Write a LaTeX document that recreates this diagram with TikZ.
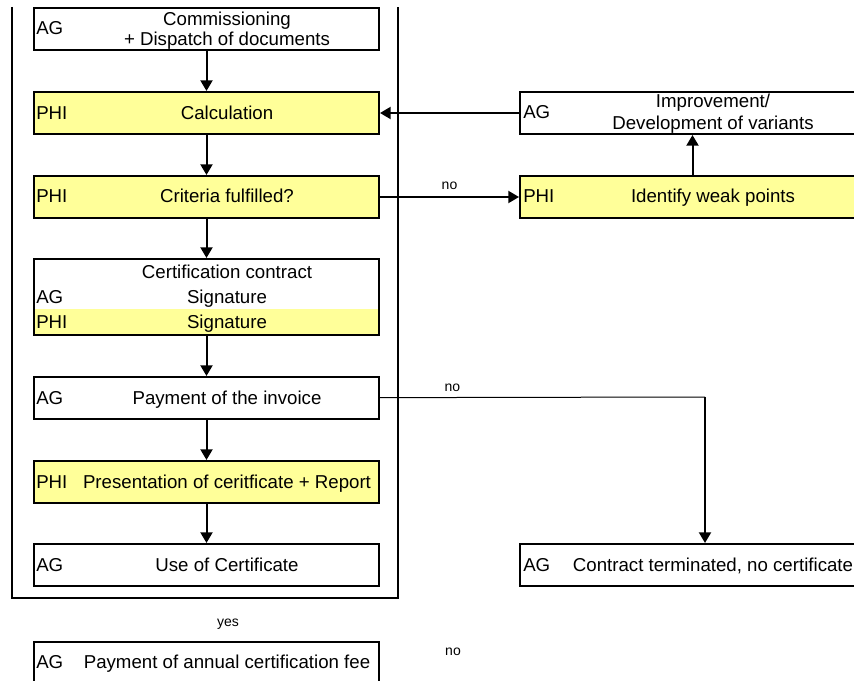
\documentclass[tikz,border=0pt]{standalone}
\usepackage{fontspec}
\setmainfont{Liberation Sans}
\usetikzlibrary{arrows.meta}
\definecolor{phiyellow}{RGB}{255,255,153}

\begin{document}
\begin{tikzpicture}[x=0.75pt,y=0.75pt,yscale=-1,xscale=1,
  box/.style={draw, line width=1.5pt, anchor=north west, inner sep=0pt, minimum width=258.75pt, minimum height=31.5pt},
  phibox/.style={box, fill=phiyellow},
  role/.style={anchor=base west, inner sep=0pt, font=\fontsize{14}{16}\selectfont},
  txt/.style={anchor=base, inner sep=0pt, font=\fontsize{14}{16}\selectfont},
  lbl/.style={inner sep=0pt, font=\fontsize{10.5}{12}\selectfont},
  flow/.style={line width=1.5pt, -{Triangle[length=8pt,width=9pt]}}]
\clip (0,0) rectangle (854,681);

%Frame
\draw [line width=1.5pt]  (12,7) -- (12,598) -- (398,598) -- (398,7) ;

%Shape: Rectangle
\node [box] (comm) at (33,7) {};
\node [role] (commrole) at (36,35) {AG};
\node [txt] (commtxt) at (227,26) {Commissioning};
\node [txt] (commtxtb) at (227,46) {+ Dispatch of documents};
%Shape: Rectangle
\node [phibox] (calc) at (33,91) {};
\node [role] (calcrole) at (36,120) {PHI};
\node [txt] (calctxt) at (227,120) {Calculation};
%Shape: Rectangle
\node [phibox] (crit) at (33,175) {};
\node [role] (critrole) at (36,203) {PHI};
\node [txt] (crittxt) at (227,203) {Criteria fulfilled?};
%Shape: Rectangle
\fill [phiyellow] (33,309) rectangle (378,334);
\node [box, minimum height=57pt] (contract) at (33,258) {};
\node [txt] (contracttxt) at (227,278) {Certification contract};
\node [role] (contractag) at (36,304) {AG};
\node [txt] (contractsiga) at (227,304) {Signature};
\node [role] (contractphi) at (36,329) {PHI};
\node [txt] (contractsigb) at (227,329) {Signature};
%Shape: Rectangle
\node [box] (pay) at (33,376) {};
\node [role] (payrole) at (36,404) {AG};
\node [txt] (paytxt) at (227,404) {Payment of the invoice};
%Shape: Rectangle
\node [phibox] (pres) at (33,460) {};
\node [role] (presrole) at (36,488) {PHI};
\node [txt] (prestxt) at (227,488) {Presentation of ceritficate + Report};
%Shape: Rectangle
\node [box] (use) at (33,543) {};
\node [role] (userole) at (36,571) {AG};
\node [txt] (usetxt) at (227,571) {Use of Certificate};
%Shape: Rectangle
\node [box] (fee) at (33,641) {};
\node [role] (feerole) at (36,668) {AG};
\node [txt] (feetxt) at (227,668) {Payment of annual certification fee};

%Shape: Rectangle
\node [box] (impr) at (519,91) {};
\node [role] (imprrole) at (523,119) {AG};
\node [txt] (imprtxt) at (713,108) {Improvement/};
\node [txt] (imprtxtb) at (713,130) {Development of variants};
%Shape: Rectangle
\node [phibox] (weak) at (519,175) {};
\node [role] (weakrole) at (523,203) {PHI};
\node [txt] (weaktxt) at (713,203) {Identify weak points};
%Shape: Rectangle
\node [box] (term) at (519,543) {};
\node [role] (termrole) at (523,571) {AG};
\node [txt] (termtxt) at (713,571) {Contract terminated, no certificate};

%Straight Lines
\draw [flow] (comm) -- (calc) ;
\draw [flow] (calc) -- (crit) ;
\draw [flow] (crit) -- (contract) ;
\draw [flow] (contract) -- (pay) ;
\draw [flow] (pay) -- (pres) ;
\draw [flow] (pres) -- (use) ;
\draw [flow] (impr) -- (calc) ;
\draw [flow] (weak) -- (impr) ;
\draw [flow] (crit) -- node [lbl, anchor=south, above=4.5pt] (critno) {no} (weak) ;
%Straight Lines
\coordinate (bend) at (705,397) ;
\draw [line width=0.75pt] (pay) -- node [lbl, pos=0.223, above=3.75pt] (payno) {no} (bend) ;
\draw [flow] (bend) -- (bend |- term.north) ;

% Text Node
\node [lbl, anchor=base] (yes) at (228,626) {yes};
% Text Node
\node [lbl, anchor=base] (feeno) at (453,655) {no};
\end{tikzpicture}
\end{document}
